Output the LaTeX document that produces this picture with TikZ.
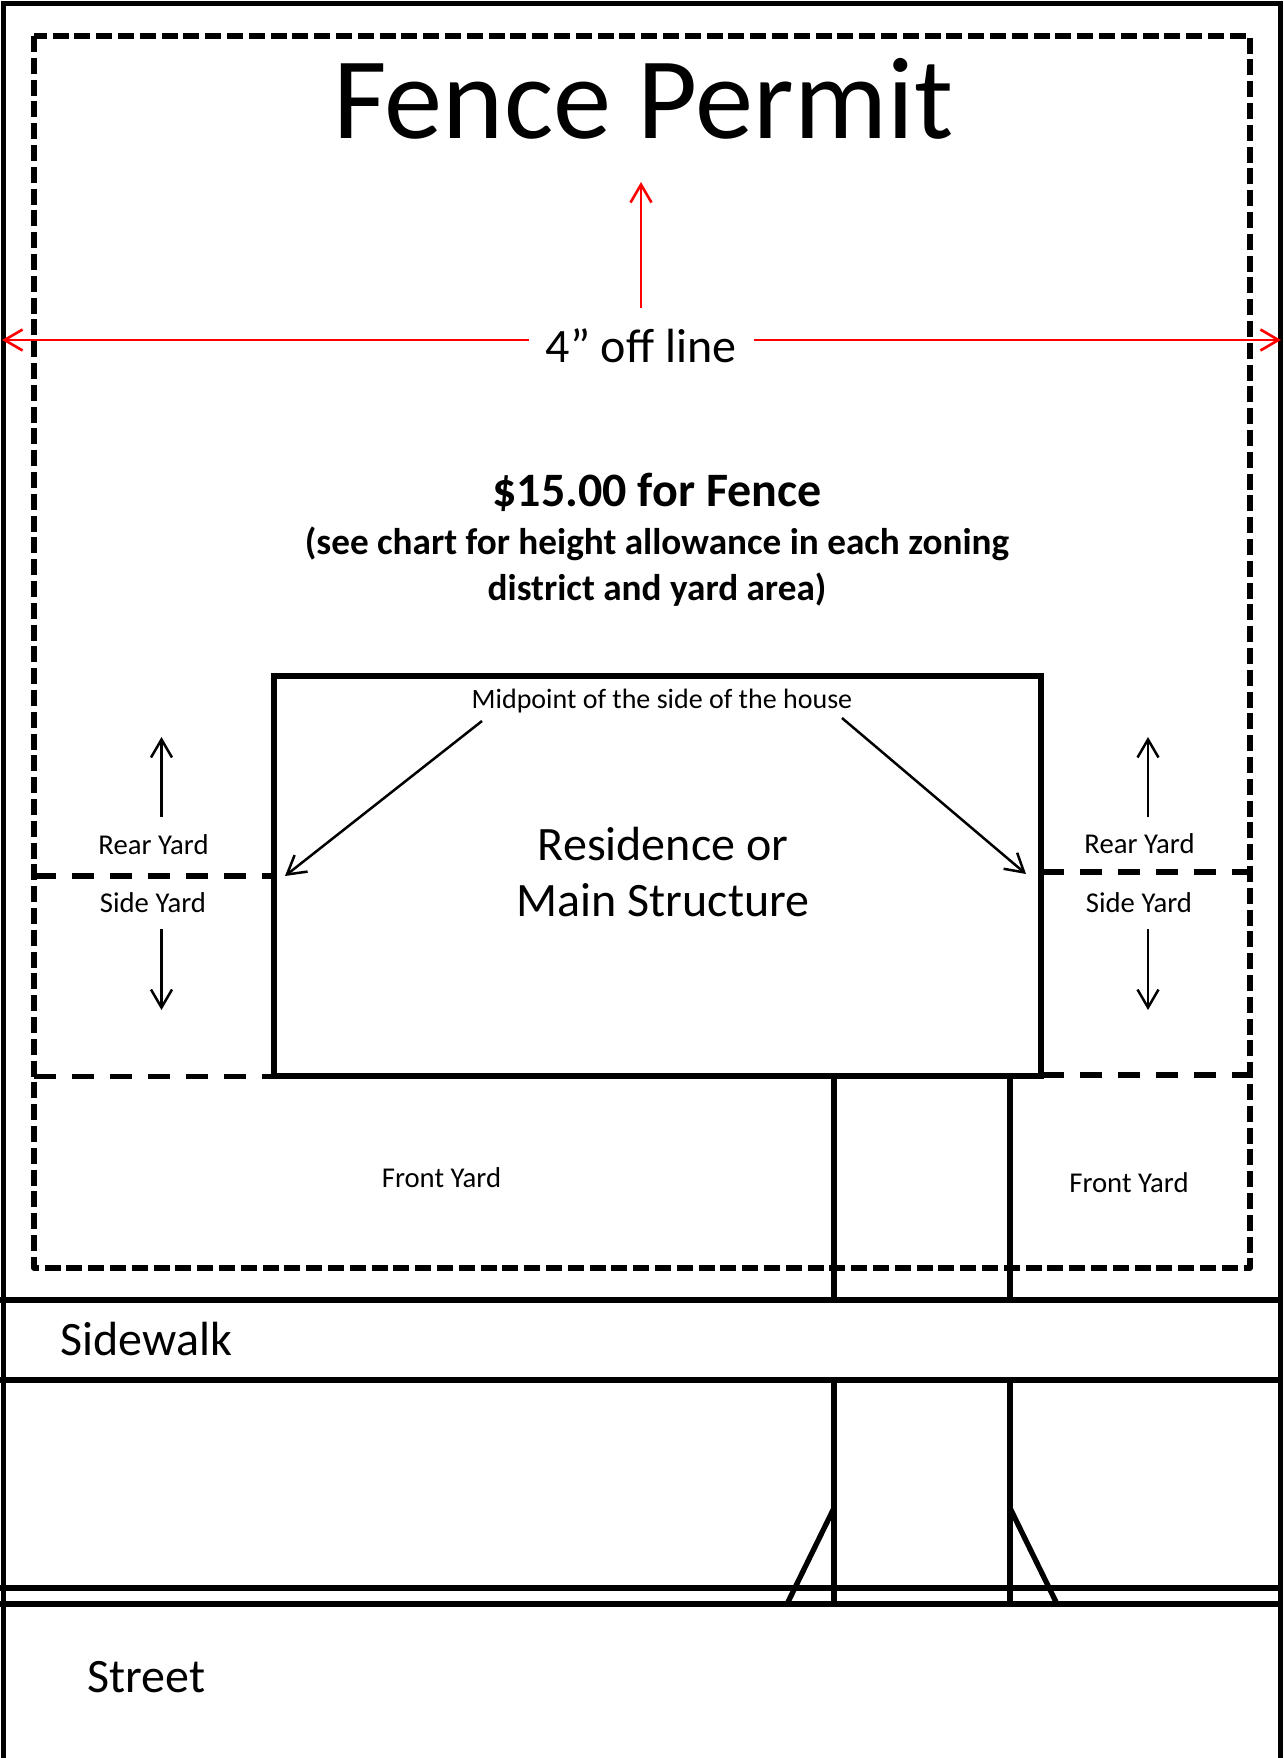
\documentclass[tikz,border=0pt]{standalone}
\usepackage{fontspec}
\setmainfont{Carlito}
\usetikzlibrary{arrows.meta}
\tikzset{
  heavy/.style={line width=5.3pt,line cap=butt,line join=miter},
  boundary/.style={line width=5.3pt,line join=round,dash pattern=on 16pt off 5.8pt},
  yardline/.style={line width=5.3pt,dash pattern=on 22pt off 16pt},
  pointer/.style={line width=2.5pt,-{Straight Barb[length=18pt,width=21pt,line width=2.5pt]}},
  redpointer/.style={red,line width=2.6pt,-{Straight Barb[length=18pt,width=21pt,line width=2.6pt]}},
  lbl/.style={anchor=base,inner sep=0pt,outer sep=0pt,align=center},
  small/.style={lbl,font=\fontsize{28.7}{28.7}\selectfont},
  mid/.style={lbl,font=\fontsize{48}{48}\selectfont},
}
\begin{document}
\begin{tikzpicture}[x=1pt,y=-1pt]
\useasboundingbox (0,0) rectangle (1283,1758);
\fill[white] (0,0) rectangle (1283,1758);
% page border
\draw[heavy,line width=5pt] (3,1760) -- (3,4) -- (1280.5,4) -- (1280.5,1760);
% dashed setback boundary
\draw[boundary] (34,36) rectangle (1250,1268);
\draw[yardline] (34,876) -- (274,876);
\draw[yardline] (34,1076.5) -- (274,1076.5);
\draw[yardline] (1042,872) -- (1250,872);
\draw[yardline] (1042,1075) -- (1250,1075);
% house
\node[draw,line width=5.3pt,outer sep=0pt,minimum width=767pt,minimum height=400pt,inner sep=0pt,anchor=north west] (house) at (274,676) {};
% street lines
\draw[heavy] (0,1300) -- (1283,1300);
\draw[heavy] (0,1380) -- (1283,1380);
\draw[heavy] (0,1588) -- (1283,1588);
\draw[heavy] (0,1604) -- (1283,1604);
% driveway
\draw[heavy] (834,1076) -- (834,1300);
\draw[heavy] (1010,1076) -- (1010,1300);
\draw[heavy] (834,1380) -- (834,1604);
\draw[heavy] (1010,1380) -- (1010,1604);
\draw[heavy] (834,1508) -- (787,1604);
\draw[heavy] (1010,1508) -- (1057,1604);
% texts
\node[lbl,font=\fontsize{116.5}{116.5}\selectfont] (title) at (643,139) {Fence Permit};
\node[mid] (offline) at (641,362) {4” off line};
\node[lbl,font=\bfseries\fontsize{48}{48}\selectfont] (fee) at (657,506) {\$15.00 for Fence};
\node[lbl,font=\bfseries\fontsize{37.2}{37.2}\selectfont] (see1) at (657,554) {(see chart for height allowance in each zoning};
\node[lbl,font=\bfseries\fontsize{37.2}{37.2}\selectfont] (see2) at (657,600) {district and yard area)};
\node[lbl,font=\fontsize{28}{28}\selectfont] (midpt) at (662,708) {Midpoint of the side of the house};
\node[mid] (res1) at (663,860) {Residence or};
\node[mid] (res2) at (663,916.5) {Main Structure};
\node[small] (rearL) at (153.5,854) {Rear Yard};
\node[small] (sideL) at (153,912.5) {Side Yard};
\node[small] (rearR) at (1139.5,853.5) {Rear Yard};
\node[small] (sideR) at (1139,912.5) {Side Yard};
\node[small] (frontL) at (441.5,1187) {Front Yard};
\node[small] (frontR) at (1129,1192) {Front Yard};
\node[mid,anchor=base west] (sidewalk) at (60.5,1355.5) {Sidewalk};
\node[mid,anchor=base west] (street) at (87.5,1692) {Street};
% arrow ends
\coordinate (ra) at (641,308); \coordinate (rb) at (641,182);
\coordinate (rc) at (529,340); \coordinate (rd) at (2,340);
\coordinate (re) at (754,340); \coordinate (rf) at (1281,340);
\coordinate (a1) at (161.5,817); \coordinate (a2) at (161.5,737);
\coordinate (a3) at (161.5,929); \coordinate (a4) at (161.5,1010);
\coordinate (a5) at (1148,817); \coordinate (a6) at (1148,737);
\coordinate (a7) at (1148,929); \coordinate (a8) at (1148,1010);
\coordinate (m1) at (482,721); \coordinate (m2) at (285,876);
\coordinate (m3) at (842,718); \coordinate (m4) at (1026,874);
\draw[redpointer] (ra) -- (rb);
\draw[redpointer] (rc) -- (rd);
\draw[redpointer] (re) -- (rf);
\draw[pointer] (a1) -- (a2);
\draw[pointer] (a3) -- (a4);
\draw[pointer] (a5) -- (a6);
\draw[pointer] (a7) -- (a8);
\draw[pointer] (m1) -- (m2);
\draw[pointer] (m3) -- (m4);
\end{tikzpicture}
\end{document}
